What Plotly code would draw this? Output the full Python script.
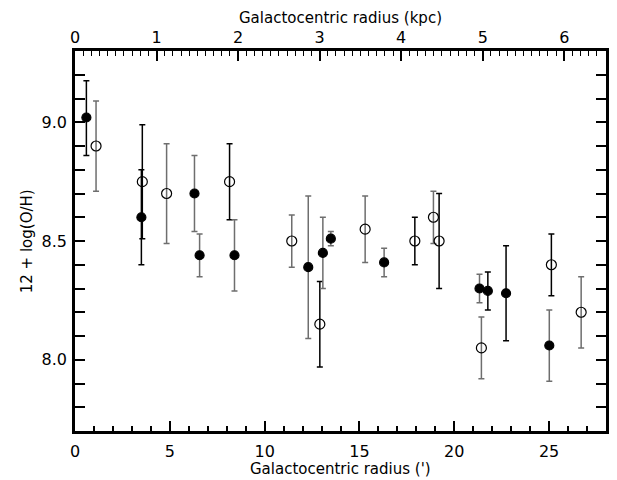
import plotly.graph_objects as go

# Filled circles
fb_x = [0.6, 3.5, 21.77, 22.73]
fb_y = [9.02, 8.60, 8.29, 8.28]
fb_hi = [9.175, 8.80, 8.37, 8.48]
fb_lo = [8.86, 8.40, 8.21, 8.08]

fg_x = [6.3, 6.57, 8.41, 12.3, 13.07, 13.49, 16.3, 21.33, 25.01]
fg_y = [8.70, 8.44, 8.44, 8.39, 8.45, 8.51, 8.41, 8.30, 8.06]
fg_hi = [8.86, 8.53, 8.59, 8.69, 8.60, 8.54, 8.47, 8.36, 8.21]
fg_lo = [8.54, 8.35, 8.29, 8.09, 8.30, 8.48, 8.35, 8.24, 7.91]

# Open circles
ob_x = [3.55, 8.15, 12.91, 17.92, 19.2, 25.12]
ob_y = [8.75, 8.75, 8.15, 8.50, 8.50, 8.40]
ob_hi = [8.99, 8.91, 8.33, 8.60, 8.70, 8.53]
ob_lo = [8.51, 8.59, 7.97, 8.40, 8.30, 8.27]

og_x = [1.11, 4.83, 11.43, 15.3, 18.9, 21.43, 26.69]
og_y = [8.90, 8.70, 8.50, 8.55, 8.60, 8.05, 8.20]
og_hi = [9.09, 8.91, 8.61, 8.69, 8.71, 8.18, 8.35]
og_lo = [8.71, 8.49, 8.39, 8.41, 8.49, 7.92, 8.05]

ARCMIN_PER_KPC = 4.3
X_MAX = 28
kpc_ticks = [0, 1, 2, 3, 4, 5, 6]

FONT = "DejaVu Sans"
fig = go.Figure()

def add(xs, ys, hi, lo, filled, ecol):
    fig.add_trace(go.Scatter(
        x=xs, y=ys, mode="markers",
        marker=dict(symbol="circle" if filled else "circle-open",
                    size=9 if filled else 10, color="black",
                    line=dict(width=1.2, color="black")),
        error_y=dict(type="data", symmetric=False,
                     array=[h - v for h, v in zip(hi, ys)],
                     arrayminus=[v - l for v, l in zip(ys, lo)],
                     color=ecol, thickness=1.5, width=3),
        showlegend=False, cliponaxis=False))

add(og_x, og_y, og_hi, og_lo, False, "#6e6e6e")
add(ob_x, ob_y, ob_hi, ob_lo, False, "black")
add(fg_x, fg_y, fg_hi, fg_lo, True, "#6e6e6e")
add(fb_x, fb_y, fb_hi, fb_lo, True, "black")

# invisible trace for top axis
fig.add_trace(go.Scatter(x=[0, X_MAX / ARCMIN_PER_KPC], y=[8.5, 8.5], xaxis="x2",
                         mode="markers", marker=dict(opacity=0), showlegend=False,
                         hoverinfo="skip"))

axfont = dict(family=FONT, size=16, color="black")
titlefont = dict(family=FONT, size=15, color="black")
# page has an 8px body margin, so the figure is 609x472 placed at (8,8)
W, H = 609, 472
L, R, T, B = 67, 8, 43, 49
PW, PH = W - L - R, H - T - B
fig.update_layout(
    width=W, height=H,
    margin=dict(l=L, r=R, t=T, b=B),
    plot_bgcolor="white", paper_bgcolor="white",
    font=axfont,
    xaxis=dict(range=[0, X_MAX], tickvals=[0, 5, 10, 15, 20, 25],
               ticks="inside", ticklen=10, tickwidth=1.5, tickcolor="black",
               minor=dict(dtick=1, ticks="inside", ticklen=5, tickwidth=1.5, tickcolor="black"),
               showline=True, linewidth=2.5, linecolor="black", mirror=True,
               showgrid=False, zeroline=False, tickfont=axfont, ticklabelstandoff=4),
    xaxis2=dict(range=[0, X_MAX / ARCMIN_PER_KPC], overlaying="x", side="top", anchor="y",
                tickvals=kpc_ticks, ticks="inside", ticklen=10, tickwidth=1.5, tickcolor="black",
                minor=dict(dtick=0.1, ticks="inside", ticklen=5, tickwidth=1.2, tickcolor="black"),
                showgrid=False, zeroline=False, tickfont=axfont, ticklabelstandoff=4),
    yaxis=dict(range=[7.7, 9.3], tickvals=[8.0, 8.5, 9.0], ticktext=["8.0", "8.5", "9.0"],
               ticks="inside", ticklen=10, tickwidth=1.5, tickcolor="black",
               minor=dict(dtick=0.1, ticks="inside", ticklen=5, tickwidth=1.5, tickcolor="black"),
               showline=True, linewidth=2.5, linecolor="black", mirror="allticks",
               showgrid=False, zeroline=False, tickfont=axfont, ticklabelstandoff=2),
    annotations=[
        dict(text="Galactocentric radius (')", xref="paper", yref="paper",
             x=0.5, y=-(461 - (T + PH)) / PH, xanchor="center", yanchor="middle",
             showarrow=False, font=titlefont),
        dict(text="Galactocentric radius (kpc)", xref="paper", yref="paper",
             x=0.5, y=1 + (T - 10) / PH, xanchor="center", yanchor="middle",
             showarrow=False, font=titlefont),
        dict(text="12 + log(O/H)", xref="paper", yref="paper", textangle=-90,
             x=-(L - 19) / PW, y=0.5, xanchor="center", yanchor="middle",
             showarrow=False, font=titlefont),
    ],
)

fig.write_html("out.html")
